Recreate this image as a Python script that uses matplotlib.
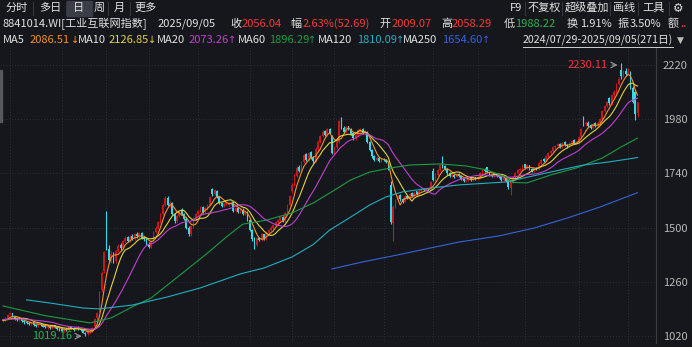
import numpy as np
import pandas as pd
import matplotlib
matplotlib.use("Agg")
import matplotlib.pyplot as plt
from matplotlib.patches import Rectangle

plt.rcParams['font.family'] = ['Noto Sans CJK SC', 'DejaVu Sans']

# ---- data: 8841014.WI daily, 2024/07/29 - 2025/09/05 (271 days) ----
pre_closes = [1110, 1105, 1100, 1095, 1102, 1098, 1090, 1085, 1092, 1088,
              1095, 1100, 1093, 1088, 1082, 1090, 1095, 1088, 1085]

opens = [1085, 1093, 1098, 1118, 1120, 1106, 1096, 1090, 1097, 1086,
         1082, 1078, 1071, 1080, 1070, 1066, 1075, 1069, 1063, 1057,
         1062, 1055, 1068, 1060, 1053, 1050, 1042, 1050, 1045, 1062,
         1055, 1048, 1060, 1052, 1045, 1034, 1028, 1038, 1042, 1060,
         1098, 1130, 1225, 1310, 1565, 1405, 1350, 1380, 1352, 1395,
         1425, 1410, 1440, 1458, 1440, 1462, 1450, 1472, 1460, 1475,
         1455, 1448, 1428, 1415, 1440, 1480, 1500, 1525, 1560, 1600,
         1632, 1598, 1608, 1558, 1530, 1550, 1580, 1560, 1540, 1500,
         1470, 1505, 1540, 1560, 1575, 1592, 1570, 1585, 1600, 1670,
         1650, 1662, 1635, 1610, 1595, 1605, 1600, 1605, 1615, 1575,
         1585, 1570, 1580, 1560, 1570, 1535, 1490, 1452, 1425, 1455,
         1445, 1470, 1450, 1475, 1490, 1500, 1508, 1525, 1535, 1548,
         1530, 1565, 1600, 1660, 1690, 1730, 1770, 1750, 1790, 1825,
         1800, 1835, 1812, 1795, 1850, 1880, 1905, 1928, 1910, 1935,
         1905, 1830, 1855, 1880, 1982, 1940, 1925, 1948, 1935, 1918,
         1895, 1910, 1930, 1938, 1918, 1922, 1880, 1845, 1815, 1800,
         1810, 1795, 1805, 1800, 1785, 1690, 1520, 1590, 1620, 1645,
         1628, 1615, 1640, 1630, 1652, 1640, 1660, 1650, 1660, 1672,
         1665, 1672, 1668, 1752, 1710, 1735, 1755, 1805, 1772, 1760,
         1740, 1730, 1735, 1725, 1738, 1730, 1715, 1705, 1712, 1718,
         1710, 1722, 1715, 1725, 1740, 1758, 1768, 1745, 1735, 1728,
         1740, 1730, 1722, 1712, 1720, 1705, 1675, 1700, 1725, 1740,
         1755, 1760, 1780, 1765, 1775, 1760, 1752, 1765, 1760, 1785,
         1802, 1795, 1815, 1830, 1840, 1855, 1862, 1872, 1858, 1880,
         1865, 1860, 1875, 1888, 1872, 1880, 1900, 1985, 1958, 1965,
         1955, 1940, 1962, 1950, 1965, 1980, 2015, 2040, 2075, 2050,
         2085, 2100, 2135, 2198, 2170, 2195, 2180, 2190, 2120, 2100,
         2009.07]

highs = [1096, 1102, 1118, 1126, 1124, 1110, 1100, 1102, 1100, 1090,
         1086, 1082, 1084, 1082, 1074, 1078, 1078, 1072, 1066, 1065,
         1065, 1072, 1070, 1063, 1058, 1053, 1055, 1054, 1066, 1066,
         1058, 1064, 1063, 1055, 1048, 1037, 1041, 1046, 1058, 1100,
         1125, 1220, 1310, 1395, 1572, 1425, 1395, 1392, 1400, 1428,
         1432, 1446, 1462, 1465, 1466, 1470, 1476, 1480, 1480, 1480,
         1462, 1455, 1435, 1445, 1485, 1506, 1530, 1565, 1605, 1640,
         1638, 1620, 1612, 1565, 1556, 1580, 1585, 1565, 1545, 1505,
         1510, 1545, 1565, 1580, 1596, 1595, 1590, 1605, 1640, 1676,
         1670, 1668, 1640, 1615, 1610, 1620, 1615, 1618, 1620, 1590,
         1590, 1585, 1585, 1575, 1575, 1540, 1495, 1458, 1460, 1460,
         1475, 1472, 1478, 1494, 1505, 1515, 1530, 1540, 1550, 1552,
         1570, 1605, 1645, 1698, 1738, 1772, 1775, 1795, 1826, 1830,
         1835, 1840, 1818, 1855, 1886, 1910, 1930, 1932, 1940, 1942,
         1910, 1860, 1885, 1975, 1988, 1950, 1950, 1952, 1940, 1922,
         1915, 1935, 1940, 1942, 1930, 1926, 1885, 1850, 1820, 1815,
         1814, 1810, 1810, 1804, 1790, 1705, 1600, 1625, 1645, 1650,
         1632, 1645, 1645, 1655, 1656, 1660, 1664, 1665, 1675, 1676,
         1678, 1676, 1705, 1765, 1740, 1760, 1780, 1815, 1778, 1764,
         1745, 1740, 1738, 1742, 1740, 1732, 1718, 1716, 1722, 1722,
         1726, 1725, 1730, 1745, 1760, 1762, 1770, 1748, 1738, 1745,
         1742, 1733, 1724, 1724, 1722, 1708, 1705, 1728, 1745, 1760,
         1765, 1780, 1783, 1780, 1778, 1764, 1770, 1768, 1790, 1805,
         1806, 1820, 1835, 1845, 1860, 1866, 1875, 1876, 1880, 1885,
         1870, 1880, 1890, 1892, 1885, 1905, 1940, 1995, 1972, 1970,
         1960, 1965, 1966, 1970, 1985, 2020, 2045, 2062, 2080, 2090,
         2108, 2140, 2165, 2230.11, 2200, 2205, 2205, 2195, 2125, 2105,
         2058.29]

lows = [1080, 1088, 1095, 1112, 1105, 1092, 1085, 1086, 1082, 1075,
        1074, 1068, 1068, 1066, 1062, 1062, 1064, 1058, 1054, 1052,
        1052, 1052, 1056, 1048, 1044, 1038, 1038, 1042, 1042, 1052,
        1044, 1045, 1048, 1040, 1032, 1019.16, 1024, 1034, 1038, 1055,
        1092, 1125, 1215, 1300, 1400, 1345, 1345, 1342, 1345, 1390,
        1402, 1405, 1435, 1435, 1435, 1445, 1446, 1455, 1455, 1450,
        1440, 1425, 1408, 1410, 1436, 1475, 1495, 1520, 1555, 1595,
        1595, 1592, 1555, 1522, 1525, 1545, 1555, 1535, 1495, 1462,
        1465, 1500, 1535, 1555, 1570, 1565, 1565, 1580, 1596, 1640,
        1645, 1630, 1605, 1590, 1590, 1600, 1595, 1600, 1570, 1570,
        1565, 1565, 1555, 1555, 1530, 1485, 1440, 1405, 1420, 1440,
        1440, 1445, 1446, 1470, 1485, 1495, 1505, 1520, 1530, 1525,
        1525, 1560, 1595, 1655, 1685, 1725, 1745, 1745, 1785, 1795,
        1795, 1805, 1788, 1790, 1845, 1875, 1900, 1905, 1905, 1915,
        1825, 1825, 1850, 1876, 1935, 1918, 1920, 1930, 1910, 1890,
        1888, 1905, 1925, 1915, 1912, 1875, 1840, 1810, 1795, 1795,
        1790, 1790, 1795, 1785, 1755, 1515, 1440, 1585, 1615, 1620,
        1610, 1612, 1625, 1626, 1636, 1636, 1645, 1646, 1656, 1660,
        1662, 1662, 1665, 1705, 1706, 1730, 1750, 1765, 1755, 1735,
        1725, 1726, 1720, 1722, 1726, 1712, 1700, 1702, 1708, 1706,
        1706, 1712, 1712, 1722, 1736, 1745, 1742, 1730, 1722, 1725,
        1726, 1718, 1708, 1708, 1700, 1672, 1645, 1696, 1720, 1736,
        1750, 1755, 1760, 1760, 1756, 1748, 1748, 1755, 1755, 1780,
        1790, 1792, 1810, 1826, 1836, 1850, 1858, 1853, 1852, 1860,
        1852, 1856, 1870, 1868, 1868, 1875, 1895, 1952, 1950, 1945,
        1935, 1935, 1945, 1945, 1960, 1975, 2010, 2035, 2045, 2045,
        2080, 2095, 2130, 2160, 2165, 2170, 2175, 2115, 2050, 1976,
        1988.22]

closes = [1092, 1098, 1115, 1120, 1108, 1095, 1090, 1098, 1085, 1080,
          1078, 1072, 1080, 1070, 1066, 1075, 1068, 1062, 1058, 1062,
          1055, 1068, 1060, 1052, 1048, 1042, 1050, 1045, 1062, 1055,
          1048, 1060, 1052, 1045, 1035, 1028, 1038, 1042, 1055, 1095,
          1120, 1215, 1300, 1390, 1410, 1355, 1385, 1350, 1395, 1420,
          1410, 1440, 1455, 1440, 1460, 1450, 1470, 1462, 1475, 1455,
          1448, 1430, 1415, 1440, 1480, 1500, 1525, 1560, 1600, 1630,
          1600, 1610, 1560, 1530, 1550, 1575, 1560, 1540, 1500, 1470,
          1505, 1540, 1560, 1575, 1590, 1570, 1585, 1600, 1635, 1650,
          1665, 1635, 1610, 1595, 1605, 1615, 1608, 1612, 1575, 1585,
          1570, 1580, 1560, 1570, 1535, 1490, 1450, 1425, 1455, 1445,
          1470, 1450, 1475, 1490, 1500, 1510, 1525, 1535, 1545, 1530,
          1565, 1600, 1640, 1690, 1730, 1765, 1750, 1790, 1820, 1800,
          1830, 1810, 1795, 1850, 1880, 1905, 1925, 1910, 1935, 1920,
          1830, 1855, 1880, 1970, 1940, 1925, 1945, 1935, 1915, 1895,
          1910, 1930, 1935, 1920, 1925, 1880, 1845, 1815, 1800, 1810,
          1795, 1805, 1800, 1790, 1760, 1525, 1590, 1620, 1640, 1625,
          1615, 1640, 1630, 1650, 1640, 1655, 1650, 1660, 1670, 1665,
          1672, 1668, 1700, 1710, 1735, 1755, 1775, 1770, 1760, 1740,
          1730, 1735, 1725, 1738, 1730, 1715, 1705, 1712, 1718, 1710,
          1722, 1715, 1725, 1740, 1755, 1750, 1745, 1735, 1728, 1740,
          1730, 1722, 1712, 1720, 1705, 1680, 1700, 1725, 1740, 1755,
          1760, 1775, 1765, 1775, 1760, 1752, 1765, 1760, 1785, 1800,
          1795, 1815, 1830, 1840, 1855, 1862, 1870, 1858, 1875, 1865,
          1860, 1875, 1885, 1872, 1880, 1900, 1935, 1958, 1965, 1950,
          1940, 1960, 1950, 1965, 1980, 2015, 2040, 2055, 2050, 2085,
          2100, 2135, 2160, 2170, 2190, 2180, 2195, 2120, 2058, 2003.35,
          2056.04]

# long moving averages (day index, value)
ma60_idx = [0, 18, 37, 46, 55, 63, 70, 78, 87, 95, 102, 112, 123, 132, 139, 148,
            156, 165, 173, 186, 197, 206, 214, 217, 223, 233, 244, 255, 263, 270]
ma60_val = [1153, 1110, 1078, 1100, 1149, 1188, 1246, 1312, 1387, 1458, 1515, 1533,
            1565, 1609, 1653, 1711, 1746, 1764, 1777, 1782, 1773, 1755, 1724, 1700,
            1698, 1733, 1764, 1808, 1857, 1896.29]
ma120_idx = [10, 20, 34, 41, 55, 70, 84, 101, 111, 123, 132, 139, 148, 156, 163,
             170, 182, 194, 214, 233, 247, 258, 270]
ma120_val = [1180, 1166, 1144, 1140, 1157, 1193, 1233, 1295, 1321, 1370, 1425, 1489,
             1547, 1600, 1636, 1658, 1675, 1689, 1702, 1746, 1777, 1791, 1810.09]
ma250_idx = [140, 153, 168, 182, 194, 211, 226, 240, 254, 270]
ma250_val = [1317, 1348, 1379, 1410, 1436, 1463, 1498, 1542, 1591, 1654.60]

month_start_idx = [3, 25, 44, 62, 83, 105, 123, 141, 162, 183, 202, 222, 245, 266]
yticks = [1020, 1260, 1500, 1740, 1980, 2220]

ma_names = ['MA5', 'MA10', 'MA20', 'MA60', 'MA120', 'MA250']
ma_values = ['2086.51', '2126.85', '2073.26', '1896.29', '1810.09', '1654.60']
ma_arrows = ['↓', '↓', '↑', '↑', '↑', '↑']

info_labels = ['收', '幅', '开', '高', '低', '换', '振', '额']
info_values = ['2056.04', '2.63%(52.69)', '2009.07', '2058.29', '1988.22', '1.91%', '3.50%', '..']

tabs = ['分时', '多日', '日', '周', '月', '更多']
tools = ['F9', '不复权', '超级叠加', '画线', '工具']

# ---- styles ----
W, H = 692, 347
BG = '#15171c'
UP = '#c8161d'
DOWN = '#3ad8e6'
ma_colors = ['#f0902a', '#e2d23c', '#c23fd0', '#1f9a45', '#22aebf', '#3a62d8']
TXT = '#e2e2e2'
RED = '#f03a3a'
GRN = '#25b451'
FS = 8


def px(x, y):
    return x / W, 1 - y / H


fig = plt.figure(figsize=(W / 100, H / 100), dpi=100, facecolor=BG)

# plot area: pixel 0..656 wide, 47..343 tall
ax = fig.add_axes([0, 1 - 343 / H, 656 / W, (343 - 47) / H], facecolor=BG)
x0, dx = 3.0, 2.35
ax.set_xlim((0 - x0) / dx, (656 - x0) / dx)
ax.set_ylim(2220 - (343 - 65) * 1200 / 271, 2220 + (65 - 47) * 1200 / 271)

idx = np.arange(len(closes))
o = np.array(opens, float)
h = np.array(highs, float)
l = np.array(lows, float)
c = np.array(closes, float)

# grid
for yv in yticks:
    ax.axhline(yv, color='#2d3037', lw=0.7, ls=(0, (1, 2)), zorder=0)
for m in month_start_idx:
    ax.axvline(m, color='#2d3037', lw=0.7, ls=(0, (1, 2)), zorder=0)

# candles
cols = np.where(c >= o, UP, DOWN)
ax.vlines(idx, l, h, colors=cols, lw=0.8, zorder=2)
body = np.maximum(np.abs(c - o), 2.5)
ax.bar(idx, body, bottom=np.minimum(o, c), width=0.7, color=cols, linewidth=0, zorder=2)

# moving averages
all_c = pd.Series(pre_closes + closes, dtype=float)
for n, col in zip([5, 10, 20], ma_colors[:3]):
    ma = all_c.rolling(n).mean().values[len(pre_closes):]
    ax.plot(idx, ma, color=col, lw=0.8, zorder=3)
ax.plot(ma60_idx, ma60_val, color=ma_colors[3], lw=0.8, zorder=3)
ax.plot(ma120_idx, ma120_val, color=ma_colors[4], lw=0.8, zorder=3)
ax.plot(ma250_idx, ma250_val, color=ma_colors[5], lw=0.8, zorder=3)

# high / low markers
hi_i = int(np.argmax(h))
lo_i = int(np.argmin(l))
ax.annotate('', xy=(hi_i - 0.3, h[hi_i] - 10), xytext=(hi_i - 5, h[hi_i] - 10),
            arrowprops=dict(arrowstyle='->', color='#9a9a9a', lw=0.8))
ax.text(hi_i - 5.6, h[hi_i] - 10, f'{h[hi_i]:.2f}', color=RED, fontsize=FS,
        ha='right', va='center')
ax.annotate('', xy=(lo_i - 0.3, l[lo_i]), xytext=(lo_i - 5, l[lo_i]),
            arrowprops=dict(arrowstyle='->', color='#9a9a9a', lw=0.8))
ax.text(lo_i - 5.6, l[lo_i], f'{l[lo_i]:.2f}', color=GRN, fontsize=FS,
        ha='right', va='center')

# axes look
ax.set_xticks([])
ax.yaxis.tick_right()
ax.set_yticks(yticks)
ax.tick_params(axis='y', length=0, pad=5, labelsize=FS, labelcolor='#b8b8b8')
for s in ['top', 'left', 'bottom']:
    ax.spines[s].set_visible(False)
ax.spines['right'].set_color('#3a3d44')
ax.spines['right'].set_linewidth(0.8)

# little scroll bar on the left edge
fig.patches.append(Rectangle(px(0, 122), 2 / W, 52 / H, transform=fig.transFigure,
                             color='#55585f', zorder=5))

# ---- toolbar ----
tab_x = [17, 50, 79, 99, 119, 146]
fig.patches.append(Rectangle(px(67, 16), 25 / W, 15 / H, transform=fig.transFigure,
                             color='#3b3e46', zorder=1))
for t, xc in zip(tabs, tab_x):
    fig.text(*px(xc, 8), t, color=TXT, fontsize=FS, ha='center', va='center')
for xs in [33, 66, 92, 108, 130]:
    fig.add_artist(plt.Line2D([xs / W, xs / W], [1 - 2 / H, 1 - 15 / H], color='#34373e', lw=0.8))

tool_x = [510, 528, 565, 613, 642]
for t, xl in zip(tools, tool_x):
    fig.text(*px(xl, 8), t, color=TXT, fontsize=FS, ha='left', va='center')
fig.text(*px(678, 8), '⚙', color=TXT, fontsize=8.5, ha='center', va='center',
         family=['DejaVu Sans'])
for xs in [525, 562, 610, 638, 669]:
    fig.add_artist(plt.Line2D([xs / W, xs / W], [1 - 2 / H, 1 - 15 / H], color='#34373e', lw=0.8))

# ---- info row ----
fig.text(*px(3, 24), '8841014.WI[工业互联网指数]', color=TXT, fontsize=FS, va='center')
fig.text(*px(158, 24), '2025/09/05', color=TXT, fontsize=FS, va='center')
lab_x = [230, 290, 379, 441, 504, 567, 618, 668]
val_x = [242, 303, 392, 452, 515, 580, 630, 680]
val_col = [RED, RED, RED, RED, GRN, TXT, TXT, RED]
for lab, val, xl, xv, vc in zip(info_labels, info_values, lab_x, val_x, val_col):
    fig.text(*px(xl, 24), lab, color=TXT, fontsize=FS, va='center')
    fig.text(*px(xv, 24), val, color=vc, fontsize=FS, va='center')

# ---- MA row ----
name_x = [3, 78, 157, 238, 318, 403]
num_x = [30, 109, 189, 269, 357, 442]
arrow_x = [71, 148, 228, 308, 396, 482]
for nm, val, ar, xn, xv, xa, col in zip(ma_names, ma_values, ma_arrows,
                                       name_x, num_x, arrow_x, ma_colors):
    fig.text(*px(xn, 40), nm, color=TXT, fontsize=FS, va='center')
    fig.text(*px(xv, 40), val, color=col, fontsize=FS, va='center')
    fig.text(*px(xa, 40), ar, color=col, fontsize=7, va='center',
             family=['DejaVu Sans'])
fig.text(*px(523, 40), '2024/07/29-2025/09/05(271日)', color=TXT, fontsize=7.7, va='center')
fig.add_artist(plt.Line2D([523 / W, 673 / W], [1 - 47 / H, 1 - 47 / H], color='#cfcfcf', lw=0.7))
fig.text(*px(677, 40), '▼', color='#bdbdbd', fontsize=6.5, va='center',
         family=['DejaVu Sans'])

fig.savefig('out.png', dpi=100, facecolor=BG)
